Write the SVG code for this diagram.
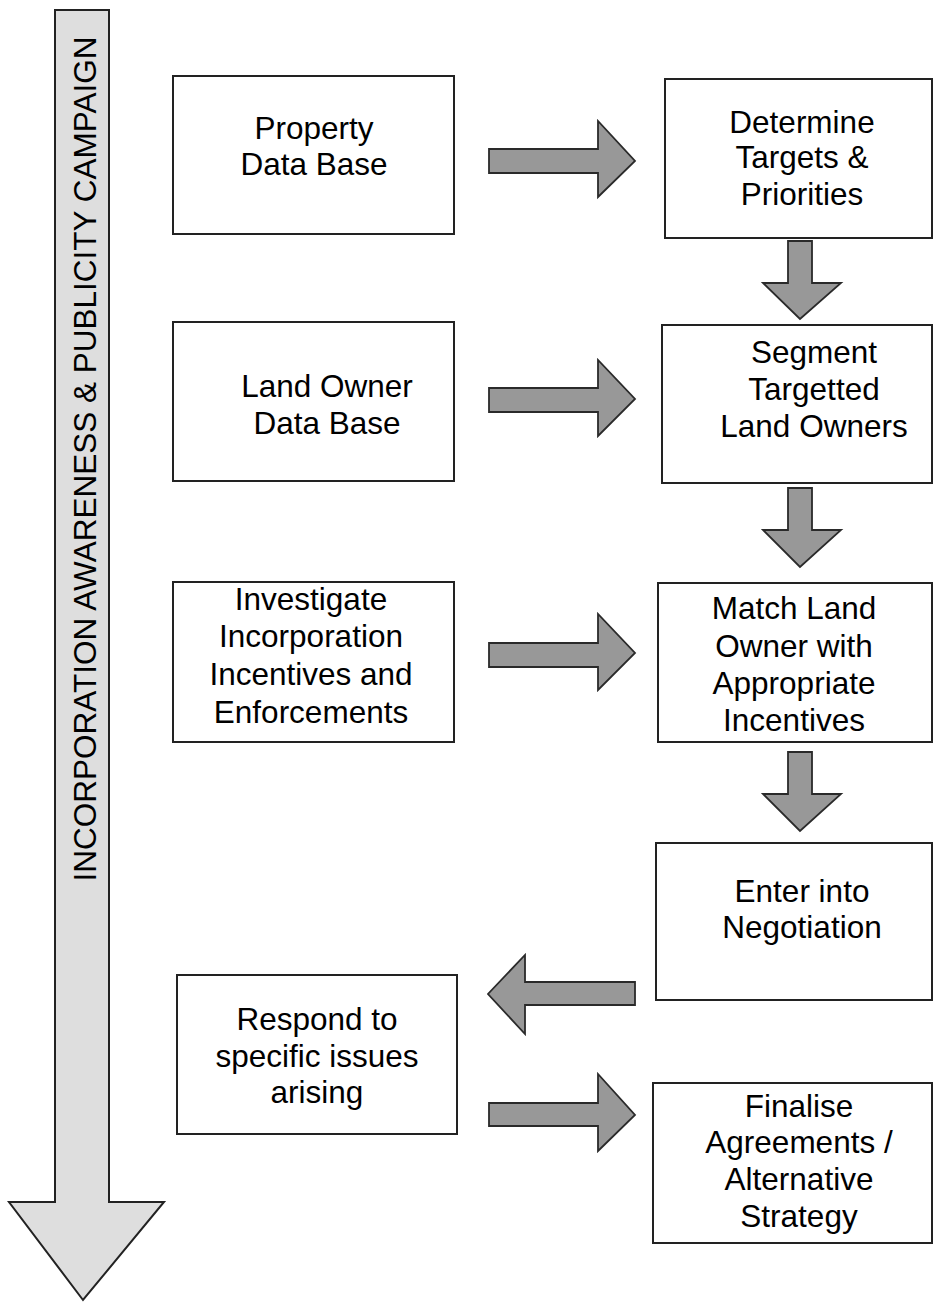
<svg xmlns="http://www.w3.org/2000/svg" width="934" height="1309" viewBox="0 0 934 1309">
<style>
.box{fill:#fff;stroke:#222;stroke-width:2}
.arr{fill:#989898;stroke:#2a2a2a;stroke-width:1.8;stroke-linejoin:miter}
.big{fill:#dedede;stroke:#222;stroke-width:2}
text{font-family:"Liberation Sans",Arial,sans-serif;font-size:31.5px;fill:#000;text-anchor:middle}
</style>
<rect width="934" height="1309" fill="#fff"/>
<g id="campaign">
<path class="big" d="M55,10 H109 V1202 H164 L83,1300 L9,1202 H55 Z"/>
<text transform="translate(96,459) rotate(-90)">INCORPORATION AWARENESS &amp; PUBLICITY CAMPAIGN</text>
</g>
<g id="connectors">
<path class="arr" d="M489,149 H598 V121 L635,161 L598,197 V173 H489 Z"/>
<path class="arr" d="M489,388 H598 V360 L635,399 L598,436 V412 H489 Z"/>
<path class="arr" d="M489,643 H598 V614 L635,653 L598,690 V667 H489 Z"/>
<path class="arr" d="M489,1103 H598 V1074 L635,1115 L598,1151 V1126 H489 Z"/>
<path class="arr" d="M635,982 H525 V955 L488,994 L525,1034 V1005 H635 Z"/>
<path class="arr" d="M788,241 H812 V283 H841 L800,319 L763,283 H788 Z"/>
<path class="arr" d="M788,488 H812 V530 H841 L800,567 L763,530 H788 Z"/>
<path class="arr" d="M788,752 H812 V794 H841 L800,831 L763,794 H788 Z"/>
</g>
<g id="property">
<rect class="box" x="173" y="76" width="281" height="158"/>
<text x="314" y="139">Property</text>
<text x="314" y="175">Data Base</text>
</g>
<g id="determine">
<rect class="box" x="665" y="79" width="267" height="159"/>
<text x="802" y="133">Determine</text>
<text x="802" y="168">Targets &amp;</text>
<text x="802" y="205">Priorities</text>
</g>
<g id="landowner">
<rect class="box" x="173" y="322" width="281" height="159"/>
<text x="327" y="397">Land Owner</text>
<text x="327" y="434">Data Base</text>
</g>
<g id="segment">
<rect class="box" x="662" y="325" width="270" height="158"/>
<text x="814" y="363">Segment</text>
<text x="814" y="400">Targetted</text>
<text x="814" y="437">Land Owners</text>
</g>
<g id="investigate">
<rect class="box" x="173" y="582" width="281" height="160"/>
<text x="311" y="610">Investigate</text>
<text x="311" y="647">Incorporation</text>
<text x="311" y="685">Incentives and</text>
<text x="311" y="723">Enforcements</text>
</g>
<g id="match">
<rect class="box" x="658" y="583" width="274" height="159"/>
<text x="794" y="619">Match Land</text>
<text x="794" y="657">Owner with</text>
<text x="794" y="694">Appropriate</text>
<text x="794" y="731">Incentives</text>
</g>
<g id="negotiation">
<rect class="box" x="656" y="843" width="276" height="157"/>
<text x="802" y="902">Enter into</text>
<text x="802" y="938">Negotiation</text>
</g>
<g id="respond">
<rect class="box" x="177" y="975" width="280" height="159"/>
<text x="317" y="1030">Respond to</text>
<text x="317" y="1067">specific issues</text>
<text x="317" y="1103">arising</text>
</g>
<g id="finalise">
<rect class="box" x="653" y="1083" width="279" height="160"/>
<text x="799" y="1117">Finalise</text>
<text x="799" y="1153">Agreements /</text>
<text x="799" y="1190">Alternative</text>
<text x="799" y="1227">Strategy</text>
</g>
</svg>
